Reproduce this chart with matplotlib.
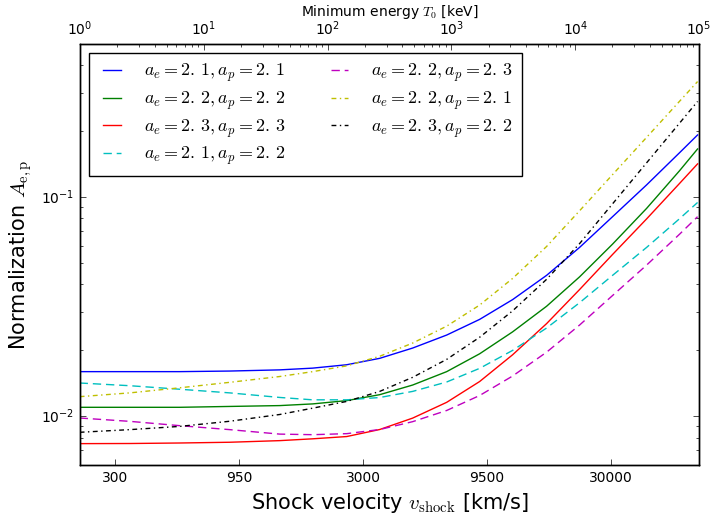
import numpy as np
import matplotlib
matplotlib.use("Agg")
import matplotlib.pyplot as plt
from matplotlib.ticker import FixedLocator, FixedFormatter, NullLocator

plt.style.use("classic")
plt.rcParams["mathtext.fontset"] = "cm"
plt.rcParams["font.family"] = "DejaVu Sans"

# shock velocity (km/s)
v_shock = [215, 343, 545, 868, 1382, 1877, 2576, 3501, 4757, 6528,
           8868, 12050, 16530, 22460, 30530, 41890, 56920, 67290]

# normalisation A_{e,p} for each (a_e, a_p)
A_21_21 = [0.0160, 0.0160, 0.0160, 0.0161, 0.0163, 0.0166, 0.0172, 0.0184, 0.0205, 0.0235,
           0.0277, 0.0341, 0.0440, 0.0590, 0.0815, 0.1138, 0.1596, 0.1923]
A_22_22 = [0.0110, 0.0110, 0.0110, 0.0111, 0.0112, 0.0114, 0.0118, 0.01256, 0.0139, 0.0160,
           0.0193, 0.0243, 0.0318, 0.0433, 0.0611, 0.0889, 0.1321, 0.166]
A_23_23 = [0.00751, 0.00752, 0.00756, 0.00762, 0.00775, 0.0079, 0.00809, 0.00871, 0.00982, 0.01159,
           0.01442, 0.0191, 0.0265, 0.0379, 0.0548, 0.0796, 0.1156, 0.1419]
A_21_22 = [0.0142, 0.0138, 0.0133, 0.0128, 0.0122, 0.0119, 0.0119, 0.01219, 0.0130, 0.01435,
           0.01656, 0.0200, 0.0253, 0.0330, 0.0440, 0.0590, 0.0798, 0.0946]
A_22_23 = [0.00983, 0.00949, 0.00907, 0.0087, 0.0083, 0.00825, 0.00834, 0.00871, 0.00946, 0.01064,
           0.01245, 0.01528, 0.01963, 0.0261, 0.0356, 0.0490, 0.0678, 0.0815]
A_22_21 = [0.0123, 0.0128, 0.0135, 0.0143, 0.0152, 0.0160, 0.0170, 0.0188, 0.0216, 0.0258,
           0.0322, 0.0426, 0.0596, 0.0867, 0.1268, 0.1875, 0.274, 0.337]
A_23_22 = [0.00846, 0.0087, 0.0090, 0.0095, 0.0102, 0.0109, 0.0117, 0.0130, 0.01507, 0.0182,
           0.02296, 0.0303, 0.0422, 0.0614, 0.0933, 0.1435, 0.2178, 0.2735]

solid = ()
dashed = (6, 3.5)
dashdot = (3.5, 2.5, 1, 2.5)

series = [
    (A_21_21, "b", solid, r"$a_e=2.\,1, a_p=2.\,1$"),
    (A_22_22, "g", solid, r"$a_e=2.\,2, a_p=2.\,2$"),
    (A_23_23, "r", solid, r"$a_e=2.\,3, a_p=2.\,3$"),
    (A_21_22, "c", dashed, r"$a_e=2.\,1, a_p=2.\,2$"),
    (A_22_23, "m", dashed, r"$a_e=2.\,2, a_p=2.\,3$"),
    (A_22_21, "y", dashdot, r"$a_e=2.\,2, a_p=2.\,1$"),
    (A_23_22, "k", dashdot, r"$a_e=2.\,3, a_p=2.\,2$"),
]

v_ticks = [300, 950, 3000, 9500, 30000]
k_T = 2.15e-5  # T0 [keV] = k_T * v^2

fig = plt.figure(figsize=(7.14, 5.24), facecolor="white")
ax = fig.add_axes([0.112, 0.1126, 0.867, 0.8034])

for vals, col, dsh, lab in series:
    line, = ax.plot(v_shock, vals, color=col, lw=1, label=lab)
    if dsh:
        line.set_dashes(dsh)

ax.set_xscale("log")
ax.set_yscale("log")
ax.set_xlim(np.sqrt(1.0 / k_T), np.sqrt(1e5 / k_T))
ax.set_ylim(0.006, 0.5)
ax.xaxis.set_major_locator(FixedLocator(v_ticks))
ax.xaxis.set_major_formatter(FixedFormatter([str(t) for t in v_ticks]))
ax.xaxis.set_minor_locator(NullLocator())
ax.tick_params(axis="x", top=False, labelsize=10)
ax.tick_params(axis="y", labelsize=10)
ax.set_xlabel(r"Shock velocity $v_{\rm shock}$ [km/s]", fontsize=15)
ax.set_ylabel(r"Normalization $A_{\rm e,p}$", fontsize=15)

leg = ax.legend(loc="upper left", ncol=2, fontsize=13, handlelength=1.55,
                handletextpad=1.0, columnspacing=2.2, borderpad=0.5,
                borderaxespad=0.5, labelspacing=0.3)
leg.get_frame().set_linewidth(1)

top = ax.twiny()
top.set_xscale("log")
top.set_xlim(1, 1e5)
top.tick_params(axis="x", labelsize=10)
top.set_xlabel(r"Minimum energy $T_0$ [keV]", fontsize=10, labelpad=3)

fig.savefig("out.png", dpi=100, facecolor="white")
